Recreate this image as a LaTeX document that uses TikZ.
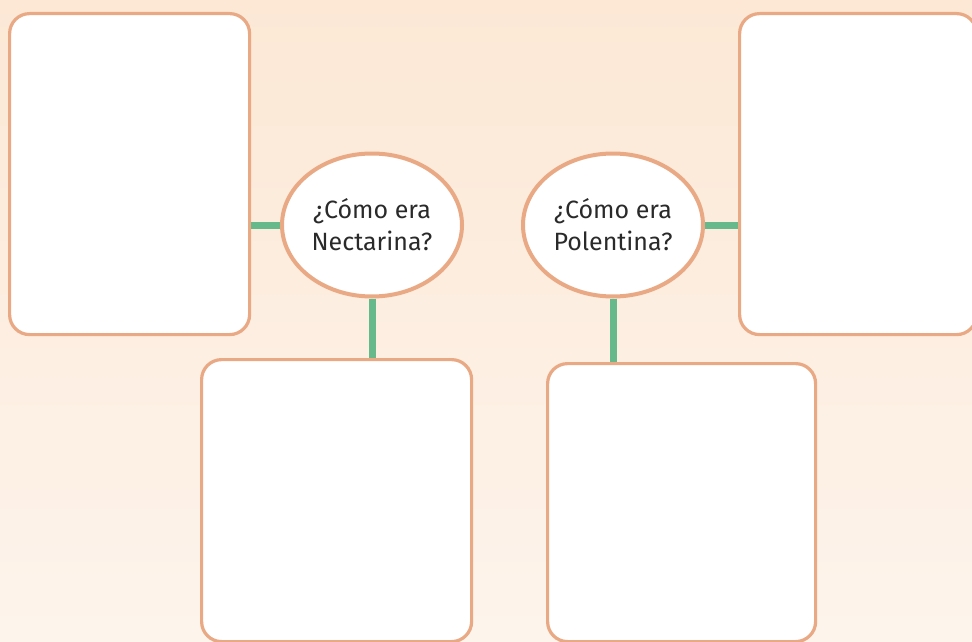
\documentclass[tikz,border=0pt]{standalone}
\usepackage{fontspec}
\setmainfont{Fira Sans}
\usetikzlibrary{shapes.geometric}
\definecolor{bgtop}{HTML}{FCE8D5}
\definecolor{bgbot}{HTML}{FDF4EC}
\definecolor{edge}{HTML}{E9A985}
\definecolor{link}{HTML}{66B98B}
\definecolor{ink}{HTML}{2A2A2A}
\tikzset{
  card/.style={draw=edge, line width=3.2pt, fill=white, rounded corners=20pt, anchor=north west, inner sep=0pt},
  question/.style={ellipse, draw=edge, line width=4pt, fill=white, minimum width=180pt, minimum height=143pt, inner sep=0pt, align=center, text=ink, font=\fontsize{25}{32}\selectfont},
  linker/.style={draw=link, line width=7pt}
}
\begin{document}
\begin{tikzpicture}[x=1pt,y=-1pt]
\useasboundingbox (0,0) rectangle (972,642);
\clip (0,0) rectangle (972,642);
\shade[top color=bgtop, bottom color=bgbot] (0,0) rectangle (972,642);
\node[card, minimum width=240pt, minimum height=321pt] (lt) at (8,12) {};
\node[card, minimum width=237pt, minimum height=321pt] (rt) at (738,12) {};
\node[card, minimum width=270pt, minimum height=282pt] (lb) at (200,358) {};
\node[card, minimum width=268pt, minimum height=278pt] (rb) at (546,362) {};
\node[question] (q1) at (372,225) {¿Cómo era\\Nectarina?};
\node[question] (q2) at (613,225) {¿Cómo era\\Polentina?};
\draw[linker] (q1.west) -- (q1.west -| lt.east);
\draw[linker] (q1.south) -- (q1.south |- lb.north);
\draw[linker] (q2.east) -- (q2.east -| rt.west);
\draw[linker] (q2.south) -- (q2.south |- rb.north);
\end{tikzpicture}
\end{document}
